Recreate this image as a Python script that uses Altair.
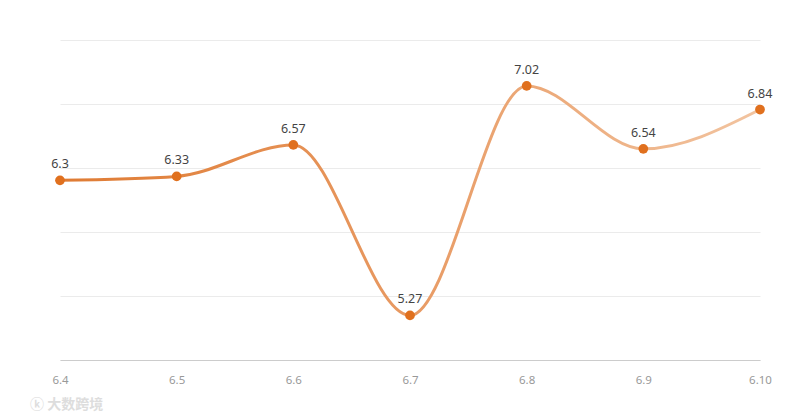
import altair as alt
import pandas as pd

categories = ["6.4", "6.5", "6.6", "6.7", "6.8", "6.9", "6.10"]
values = [6.3, 6.33, 6.57, 5.27, 7.02, 6.54, 6.84]

df = pd.DataFrame({"date": categories, "value": values})

y_min, y_max = 4.93, 7.37
step = (y_max - y_min) / 5
grid_vals = [round(y_min + i * step, 4) for i in range(6)]

x = alt.X("date:N", sort=categories,
          scale=alt.Scale(type="point", padding=0),
          axis=alt.Axis(title=None, labelAngle=0, labelColor="#999999", labelFontSize=11.5,
                        labelFont="Noto Sans", labelPadding=14, domainColor="#cccccc",
                        ticks=False, grid=False))
y = alt.Y("value:Q", scale=alt.Scale(domain=[y_min, y_max], zero=False, nice=False),
          axis=alt.Axis(title=None, labels=False, ticks=False, domain=False,
                        values=grid_vals, gridColor="#ebebeb", gridWidth=1))

base = alt.Chart(df).encode(x=x, y=y)

line = base.mark_line(
    interpolate="monotone", strokeWidth=3,
    color=alt.Gradient(gradient="linear", x1=0, x2=1, y1=0, y2=0,
                       stops=[alt.GradientStop(color="#DF7B33", offset=0),
                              alt.GradientStop(color="#E89A63", offset=0.5),
                              alt.GradientStop(color="#F2C4A0", offset=1)])
)
points = base.mark_circle(size=95, opacity=1, color="#E0701E")
labels = base.mark_text(dy=-16, fontSize=12.5, font="Noto Sans", color="#444444").encode(
    text=alt.Text("value:Q"))

wm = alt.Chart(pd.DataFrame({"t": ["ⓚ 大数跨境"]})).mark_text(
    align="left", baseline="middle", fontSize=14, font="Noto Sans CJK SC",
    color="#dddddd", fontWeight="bold").encode(
    text="t:N", x=alt.value(-30), y=alt.value(365))

chart = alt.layer(line, points, labels, wm).properties(
    width=700, height=320,
    autosize=alt.AutoSizeParams(type="none"),
    padding={"left": 52, "top": 32, "right": 32, "bottom": 56},
).configure(background="white", view=alt.ViewConfig(stroke=None))

chart.save("out.html", embed_options={"renderer": "svg", "actions": False})
